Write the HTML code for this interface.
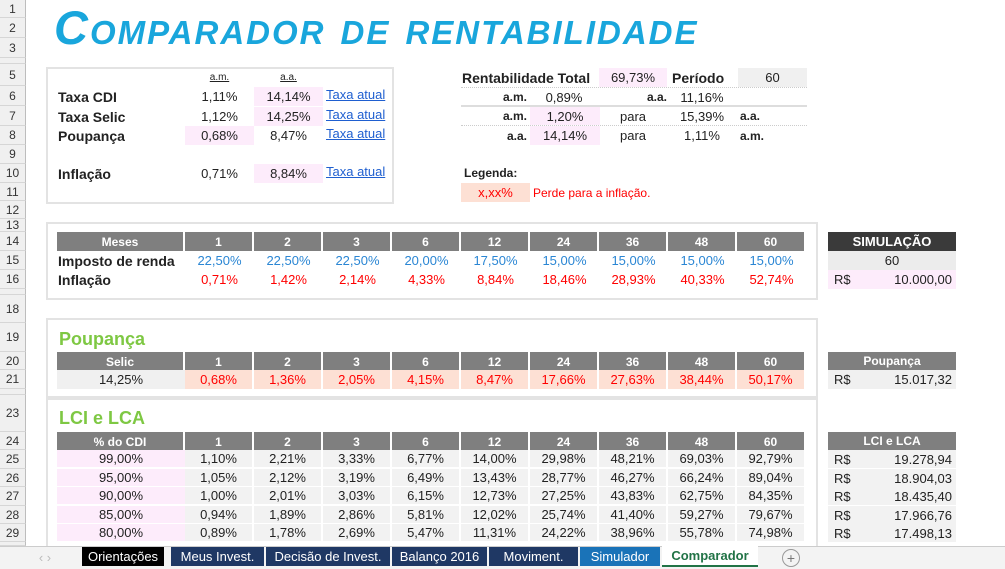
<!DOCTYPE html>
<html><head><meta charset="utf-8">
<style>
*{box-sizing:border-box;margin:0;padding:0}
body{width:1005px;height:569px;overflow:hidden;background:#fff;position:relative;font-family:"Liberation Sans Narrow","Liberation Sans",sans-serif;font-size:13px;color:#222}
.a{position:absolute;display:flex;align-items:center;justify-content:center;white-space:nowrap;overflow:hidden}
.l{justify-content:flex-start}.r{justify-content:flex-end}
.hd{background:#7f7f7f;color:#fff;font-weight:bold;border-right:2px solid #fff}
.b{font-weight:bold}
.box{position:absolute;border:2px solid #e3e3e3}
.rh{position:absolute;left:0;width:26px;background:#f0f0f0;border-right:1px solid #bdbdbd;border-bottom:1px solid #d6d6d6;font-size:12px;color:#333;display:flex;align-items:center;justify-content:center;font-family:"Liberation Sans",sans-serif}
.lk{color:#1f5fd0;text-decoration:underline}
</style></head><body>
<div id="root"></div>
<div class="a l" style="left:54px;top:2px;height:50px;font-family:'Liberation Sans',sans-serif;font-weight:bold;font-style:italic;font-size:47px;color:#19a6dc;font-variant:small-caps;letter-spacing:2px">Comparador de rentabilidade</div>
<script>
const months=["1","2","3","6","12","24","36","48","60"];
const irRates=["22,50%","22,50%","22,50%","20,00%","17,50%","15,00%","15,00%","15,00%","15,00%"];
const inflation=["0,71%","1,42%","2,14%","4,33%","8,84%","18,46%","28,93%","40,33%","52,74%"];
const poupanca=["0,68%","1,36%","2,05%","4,15%","8,47%","17,66%","27,63%","38,44%","50,17%"];
const cdiPct=["99,00%","95,00%","90,00%","85,00%","80,00%"];
const lci=[["1,10%","2,21%","3,33%","6,77%","14,00%","29,98%","48,21%","69,03%","92,79%"],
["1,05%","2,12%","3,19%","6,49%","13,43%","28,77%","46,27%","66,24%","89,04%"],
["1,00%","2,01%","3,03%","6,15%","12,73%","27,25%","43,83%","62,75%","84,35%"],
["0,94%","1,89%","2,86%","5,81%","12,02%","25,74%","41,40%","59,27%","79,67%"],
["0,89%","1,78%","2,69%","5,47%","11,31%","24,22%","38,96%","55,78%","74,98%"]];
const lciTotals=["19.278,94","18.904,03","18.435,40","17.966,76","17.498,13"];
const rowNums=[[1,0,18],[2,18,20],[3,38,20],[4,58,6],[5,64,22],[6,86,20],[7,106,20],[8,126,19],[9,145,19],[10,164,19],[11,183,18],[12,201,18],[13,219,13],[14,232,19],[15,251,19],[16,270,19],[17,289,6],[18,295,28],[19,323,29],[20,352,18],[21,370,19],[22,389,6],[23,395,37],[24,432,18],[25,450,19],[26,469,18],[27,487,19],[28,506,18],[29,524,18],[30,542,4]];
const body=document.body;
function c(x,y,w,h,t,cls,st,name,inter){
 const d=document.createElement('div');
 d.className='a '+(cls||'');
 d.style.cssText='left:'+x+'px;top:'+y+'px;width:'+w+'px;height:'+h+'px;'+(st||'');
 d.textContent=t;
 
 
 body.appendChild(d);return d;
}
function box(x,y,w,h,name){const d=document.createElement('div');d.className='box';d.style.cssText='left:'+x+'px;top:'+y+'px;width:'+w+'px;height:'+h+'px';
 
 
 body.appendChild(d);}
rowNums.forEach(r=>{const d=document.createElement('div');d.className='rh';d.style.top=r[1]+'px';d.style.height=r[2]+'px';d.textContent=r[2]>10?r[0]:'';
 
 
 body.appendChild(d);});
box(46,67,348,137,'rates-panel');
box(46,222,772,78,'tax-panel');
box(46,318,772,80,'poupanca-panel');
box(46,398,772,150,'lci-panel');
const F="font-family:'Liberation Sans',sans-serif;";
c(185,69,69,16,'a.m.','',F+'font-size:10px;text-decoration:underline','am-header');
c(254,69,69,16,'a.a.','',F+'font-size:10px;text-decoration:underline','aa-header');
[['Taxa CDI','1,11%','14,14%',87,'a'],['Taxa Selic','1,12%','14,25%',107,'a'],['Poupança','0,68%','8,47%',126,'m'],['Inflação','0,71%','8,84%',164,'a']].forEach(r=>{
 c(58,r[3],120,19,r[0],'l b',F+'font-size:14px','rate-label');
 c(185,r[3],69,19,r[1],'',F+'font-size:13px;'+(r[4]=='m'?'background:#fdecfb':''),'rate-am');
 c(254,r[3],69,19,r[2],'',F+'font-size:13px;'+(r[4]=='a'?'background:#fdecfb':''),'rate-aa');
 c(326,r[3]-2,64,18,'Taxa atual','l lk',F+'font-size:13px','taxa-atual-link',true);
});
c(462,68,136,19,'Rentabilidade Total','l b',F+'font-size:14px','rentabilidade-total-label');
c(599,68,68,19,'69,73%','',F+'background:#fdecfb','rentabilidade-total-value');
c(672,68,66,19,'Período','l b',F+'font-size:14px','periodo-label');
c(738,68,69,19,'60','',F+'background:#f0f0f0','periodo-value');
c(462,88,65,18,'a.m.','r b',F+'font-size:12px','am-label');
c(530,88,68,18,'0,89%','',F,'am-value');
c(599,88,68,18,'a.a.','r b',F+'font-size:12px','aa-label');
c(668,88,68,18,'11,16%','',F,'aa-value');
c(462,107,65,18,'a.m.','r b',F+'font-size:12px','conv-am-label');
c(530,107,70,18,'1,20%','',F+'background:#fdecfb','conv-am-input',true);
c(599,107,68,18,'para','',F,'para');
c(668,107,68,18,'15,39%','',F,'conv-aa-result');
c(740,107,40,18,'a.a.','l b',F+'font-size:12px','conv-aa-unit');
c(462,126,65,19,'a.a.','r b',F+'font-size:12px','conv-aa-label');
c(530,126,70,19,'14,14%','',F+'background:#fdecfb','conv-aa-input',true);
c(599,126,68,19,'para','',F,'para');
c(668,126,68,19,'1,11%','',F,'conv-am-result');
c(740,126,40,19,'a.m.','l b',F+'font-size:12px','conv-am-unit');
c(464,164,80,18,'Legenda:','l b',F+'font-size:12px','legend-title');
c(461,183,69,19,'x,xx%','',F+'background:#fde0d4;color:#f00','legend-swatch');
c(533,183,150,19,'Perde para a inflação.','l',F+'color:#f00;font-size:12px','legend-text');
[[461,87,346,'1px dotted #ccc'],[461,105,346,'2px solid #ddd'],[461,125,346,'1px dotted #ccc']].forEach(l=>{c(l[0],l[1],l[2],2,'','','border-top:'+l[3],'divider');});
const colX=[185,254,323,392,461,530,599,668,737];
function header(y,label,name){c(57,y,128,19,label,'hd','font-size:12px',name+'-header');months.forEach((m,i)=>c(colX[i],y,69,19,m,'hd','font-size:12px',name+'-month-'+m));}
header(232,'Meses','tax');
c(58,251,127,19,'Imposto de renda','l b','font-size:14px','imposto-label');
irRates.forEach((v,i)=>c(colX[i],251,69,19,v,'','color:#2a86d4;font-size:13px','ir-value'));
c(58,270,127,19,'Inflação','l b','font-size:14px','inflacao-label');
inflation.forEach((v,i)=>c(colX[i],270,69,19,v,'','color:#f00;font-size:13px','inflacao-value'));
c(828,232,128,19,'SIMULAÇÃO','b','background:#3a3a3a;color:#fff','simulacao-header');
c(828,251,128,19,'60','','background:#ececec;font-size:13px','simulacao-periodo',true);
c(828,270,30,19,'R$','l','background:#fdecfb;padding-left:6px;font-size:13px','currency');
c(856,270,100,19,'10.000,00','r','background:#fdecfb;padding-right:4px;font-size:13px','simulacao-valor',true);
c(59,326,200,26,'Poupança','l b',F+'font-size:18px;color:#7ec843','poupanca-title');
header(352,'Selic','poupanca');
c(57,370,128,19,'14,25%','','background:#f0f0f0;font-size:13px','selic-value');
poupanca.forEach((v,i)=>c(colX[i],370,69,19,v,'','background:#fde0d4;color:#f00;font-size:13px;border-right:2px solid #fff','poupanca-value'));
c(828,352,128,18,'Poupança','hd','border:0;font-size:12px','poupanca-result-header');
c(828,370,30,19,'R$','l','background:#f0f0f0;padding-left:6px;font-size:13px','currency');
c(856,370,100,19,'15.017,32','r','background:#f0f0f0;padding-right:4px;font-size:13px','poupanca-result');
c(59,404,200,28,'LCI e LCA','l b',F+'font-size:18px;color:#7ec843','lci-title');
header(432,'% do CDI','lci');
c(828,432,128,18,'LCI e LCA','hd','border:0;font-size:12px','lci-result-header');
const ry=[450,469,487,506,524];
cdiPct.forEach((p,r)=>{
 c(57,ry[r],128,18,p,'','background:#fdecfb;font-size:13px;border-bottom:1px solid #fff','cdi-pct',true);
 lci[r].forEach((v,i)=>c(colX[i],ry[r],69,18,v,'','background:#f2f2f2;font-size:13px;border-right:2px solid #fff;border-bottom:1px solid #fff','lci-value'));
 c(828,ry[r],30,18,'R$','l','background:#f2f2f2;padding-left:6px;font-size:13px','currency');
 c(856,ry[r],100,18,lciTotals[r],'r','background:#f2f2f2;padding-right:4px;font-size:13px','lci-result');
});
c(0,546,1005,23,'','','background:#f3f3f3;border-top:1px solid #ccc','sheet-tab-bar');
c(30,548,30,18,'‹  ›','','color:#bbb','tab-scroll',true);
const tabs=[['Orientações',82,82,'#000'],['Meus Invest.',171,93,'#1f3864'],['Decisão de Invest.',266,124,'#1f3864'],['Balanço 2016',392,95,'#1f3864'],['Moviment.',489,89,'#1f3864'],['Simulador',580,80,'#1a73b8']];
tabs.forEach(t=>c(t[1],547,t[2],19,t[0],'','color:#fff;font-size:13px;background:'+t[3],'sheet-tab',true));
c(662,546,96,21,'Comparador','b','background:#fff;color:#217346;border-bottom:2px solid #217346','sheet-tab-active',true);
c(782,549,18,18,'+','','border:1px solid #999;border-radius:50%;color:#777;font-size:14px','add-sheet-button',true);
</script>
</body></html>
